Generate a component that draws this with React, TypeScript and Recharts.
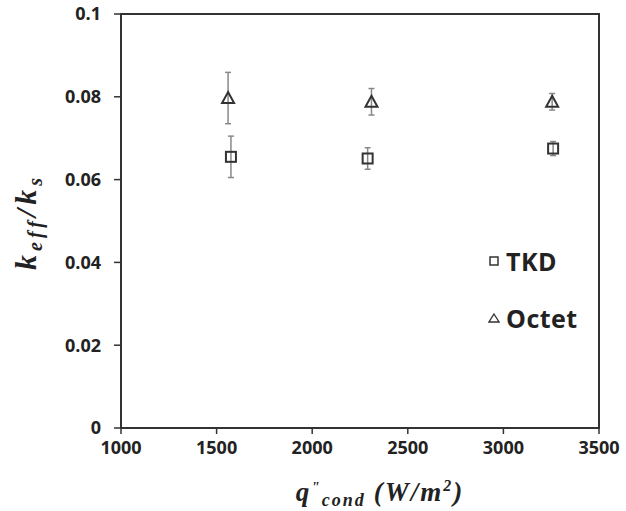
import { ErrorBar, Legend, ReferenceArea, Scatter, ScatterChart, XAxis, YAxis } from "recharts";

// q"cond (W/m2) and keff/ks values
const tkdQ = [1575, 2290, 3260];
const tkdK = [0.0655, 0.0651, 0.0675];
const tkdErr = [0.005, 0.0026, 0.0017];

const octetQ = [1560, 2310, 3255];
const octetK = [0.0797, 0.0788, 0.0788];
const octetErr = [0.0062, 0.0032, 0.002];

const xTicks = [1000, 1500, 2000, 2500, 3000, 3500];
const yTicks = [0, 0.02, 0.04, 0.06, 0.08, 0.1];

const tkdData = tkdQ.map((q, i) => ({ q, k: tkdK[i], err: tkdErr[i] }));
const octetData = octetQ.map((q, i) => ({ q, k: octetK[i], err: octetErr[i] }));

const INK = "#333333";
const TICK_FONT = "'Open Sans', sans-serif";
const MATH_FONT = "'Liberation Serif', serif";

function SquareMark({ cx, cy }: { cx?: number; cy?: number }) {
  if (cx == null || cy == null) return null;
  return <rect x={cx - 5} y={cy - 5} width={10} height={10} fill="none" stroke={INK} strokeWidth={2} />;
}

function TriangleMark({ cx, cy }: { cx?: number; cy?: number }) {
  if (cx == null || cy == null) return null;
  const pts = `${cx},${cy - 6} ${cx + 6},${cy + 5} ${cx - 6},${cy + 5}`;
  return <polygon points={pts} fill="none" stroke={INK} strokeWidth={2} strokeLinejoin="miter" />;
}

function formatY(v: number): string {
  return v === 0 ? "0" : String(v);
}

function LegendBox() {
  const row = { display: "flex", alignItems: "center", height: 30 } as const;
  const label = { fontFamily: TICK_FONT, fontWeight: 700, fontSize: 25, color: "#222", marginLeft: 6, letterSpacing: 0.5 };
  return (
    <div style={{ display: "flex", flexDirection: "column", gap: 27 }}>
      <div style={row}>
        <svg width={12} height={12}>
          <rect x={2} y={2} width={8} height={8} fill="none" stroke={INK} strokeWidth={1.5} />
        </svg>
        <span style={label}>TKD</span>
      </div>
      <div style={row}>
        <svg width={12} height={12}>
          <polygon points="6,2 11,10 1,10" fill="none" stroke={INK} strokeWidth={1.3} />
        </svg>
        <span style={label}>Octet</span>
      </div>
    </div>
  );
}

function XLabel({ viewBox }: { viewBox?: { x: number; y: number; width: number } }) {
  const vb = viewBox ?? { x: 121, y: 428, width: 478 };
  return (
    <text
      x={vb.x + vb.width / 2 + 20}
      y={501}
      textAnchor="middle"
      fontFamily={MATH_FONT}
      fontStyle="italic"
      fontWeight={700}
      fontSize={27}
      letterSpacing={2}
      fill="#222"
    >
      <tspan>q</tspan>
      <tspan fontSize={15} dy={-9}>"</tspan>
      <tspan fontSize={18} dy={14}>cond</tspan>
      <tspan dy={-5} dx={8}>(W/m</tspan>
      <tspan fontSize={16} dy={-10}>2</tspan>
      <tspan dy={10}>)</tspan>
    </text>
  );
}

function YLabel() {
  return (
    <text
      transform="translate(36, 222) rotate(-90)"
      textAnchor="middle"
      fontFamily={MATH_FONT}
      fontStyle="italic"
      fontWeight={700}
      fontSize={30}
      letterSpacing={4}
      fill="#222"
    >
      <tspan>k</tspan>
      <tspan fontSize={20} dy={6}>eff</tspan>
      <tspan dy={-6}>/k</tspan>
      <tspan fontSize={20} dy={6}>s</tspan>
    </text>
  );
}

export default function App() {
  return (
    <div style={{ position: "absolute", left: 0, top: 0, width: 626, height: 511, background: "#fff" }}>
      <ScatterChart width={626} height={511} margin={{ top: 14, right: 27, bottom: 0, left: 0 }}>
        <ReferenceArea x1={1000} x2={3500} y1={0} y2={0.1} fill="none" stroke={INK} strokeWidth={2} ifOverflow="visible" />
        <XAxis
          type="number"
          dataKey="q"
          domain={[1000, 3500]}
          ticks={xTicks}
          height={83}
          axisLine={{ stroke: INK, strokeWidth: 2 }}
          tickLine={{ stroke: INK, strokeWidth: 1.5 }}
          tickSize={6}
          tickMargin={7}
          tick={{ fill: "#222", fontFamily: TICK_FONT, fontWeight: 700, fontSize: 18 }}
          label={<XLabel />}
        />
        <YAxis
          type="number"
          dataKey="k"
          domain={[0, 0.1]}
          ticks={yTicks}
          width={121}
          tickFormatter={formatY}
          axisLine={{ stroke: INK, strokeWidth: 2 }}
          tickLine={{ stroke: INK, strokeWidth: 1.5 }}
          tickSize={7}
          tickMargin={13}
          tick={{ fill: "#222", fontFamily: TICK_FONT, fontWeight: 700, fontSize: 18 }}
          label={<YLabel />}
        />
        <Legend
          layout="vertical"
          align="center"
          verticalAlign="middle"
          content={<LegendBox />}
          wrapperStyle={{ position: "absolute", left: 488, top: 246, width: "auto" }}
        />
        <Scatter name="TKD" data={tkdData} shape={<SquareMark />} isAnimationActive={false}>
          <ErrorBar dataKey="err" direction="y" width={3} stroke="#888" strokeWidth={1.5} isAnimationActive={false} />
        </Scatter>
        <Scatter name="Octet" data={octetData} shape={<TriangleMark />} isAnimationActive={false}>
          <ErrorBar dataKey="err" direction="y" width={3} stroke="#888" strokeWidth={1.5} isAnimationActive={false} />
        </Scatter>
      </ScatterChart>
    </div>
  );
}
